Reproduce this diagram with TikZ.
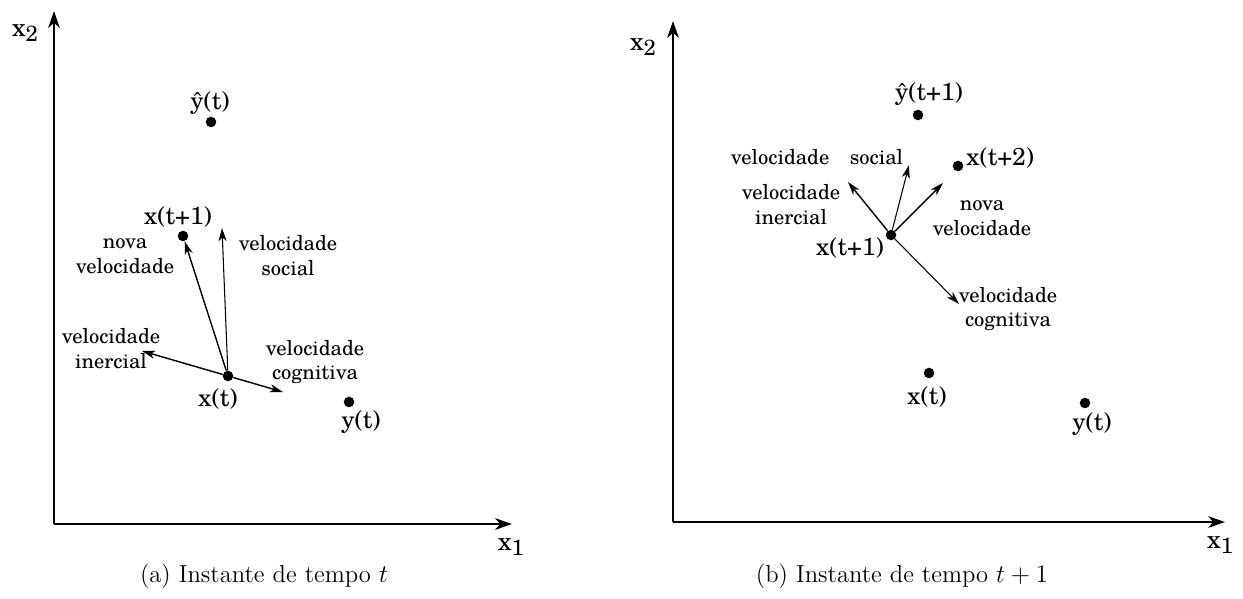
\documentclass[tikz,border=0pt]{standalone}
\usepackage{fontspec}
\usetikzlibrary{arrows.meta}
\newfontfamily\schola{TeX Gyre Schola}
\begin{document}
\begin{tikzpicture}[x=0.02cm,y=-0.02cm,
  axis/.style={line width=1.6pt,-{Stealth[length=9.5pt,width=6.5pt,inset=2.8pt]}},
  vel/.style={line width=0.8pt,-{Stealth[length=7.5pt,width=4.6pt,inset=2.2pt]}},
  velthin/.style={line width=0.6pt,-{Stealth[length=7.5pt,width=4.6pt,inset=2.2pt]}},
  dot/.style={circle,fill,inner sep=0pt,minimum size=6pt},
  axlbl/.style={font=\schola\fontsize{14.5}{16}\selectfont,inner sep=0pt},
  ptlbl/.style={font=\schola\fontsize{14}{16}\selectfont,inner sep=0pt},
  desc/.style={font=\schola\fontsize{11.7}{14.2}\selectfont,align=center,inner sep=0pt},
  captxt/.style={font=\fontsize{14}{16}\selectfont,inner sep=0pt}]
\useasboundingbox (0,0) rectangle (1243,598);

% ---------- panel (a) ----------
\coordinate (oa) at (54,524);
\coordinate (ya) at (54,11);
\coordinate (xa) at (512,524);
\draw[axis] (oa) -- (ya);
\draw[axis] (oa) -- (xa);
\node[axlbl] (x2a) at (25,33) {x\raisebox{-0.4ex}{\fontsize{12.5}{14}\selectfont 2}};
\node[axlbl] (x1a) at (511,547) {x\raisebox{-0.4ex}{\fontsize{12.5}{14}\selectfont 1}};

\node[dot] (yhata) at (211,122) {};
\node[ptlbl] (yhatalbl) at (210,103) {\^{y}(t)};
\node[dot] (xt1a) at (183,236) {};
\node[ptlbl] (xt1albl) at (178,217) {x(t+1)};
\node[dot] (xta) at (228,376) {};
\node[ptlbl] (xtalbl) at (218,399) {x(t)};
\node[dot] (yta) at (349,402) {};
\node[ptlbl] (ytalbl) at (361,422) {y(t)};

\coordinate (socA) at (222,228);
\coordinate (inA) at (142,351);
\coordinate (cogA) at (283,392);
\draw[vel] (xta) -- (xt1a);
\draw[velthin] (xta) -- (socA);
\draw[vel] (xta) -- (inA);
\draw[vel] (xta) -- (cogA);

\node[desc] (novaA) at (125,256) {nova\\velocidade};
\node[desc] (socAl) at (288,256) {velocidade\\social};
\node[desc] (inAl) at (111,349) {velocidade\\inercial};
\node[desc] (cogAl) at (315,362) {velocidade\\cognitiva};

\node[captxt] (capa) at (264,576) {(a) Instante de tempo $t$};

% ---------- panel (b) ----------
\coordinate (ob) at (673,522);
\coordinate (yb) at (673,21);
\coordinate (xb) at (1225,522);
\draw[axis] (ob) -- (yb);
\draw[axis] (ob) -- (xb);
\node[axlbl] (x2b) at (643,47) {x\raisebox{-0.4ex}{\fontsize{12.5}{14}\selectfont 2}};
\node[axlbl] (x1b) at (1220,545) {x\raisebox{-0.4ex}{\fontsize{12.5}{14}\selectfont 1}};

\node[dot] (yhatb) at (918,115) {};
\node[ptlbl] (yhatblbl) at (929,94) {\^{y}(t+1)};
\node[dot] (xt2b) at (958,166) {};
\node[ptlbl,anchor=west] (xt2blbl) at (966,158) {x(t+2)};
\node[dot] (xt1b) at (891,235) {};
\node[ptlbl] (xt1blbl) at (850,248) {x(t+1)};
\node[dot] (xtb) at (929,373) {};
\node[ptlbl] (xtblbl) at (927,397) {x(t)};
\node[dot] (ytb) at (1085,403) {};
\node[ptlbl] (ytblbl) at (1092,424) {y(t)};

\coordinate (inB) at (848,182);
\coordinate (socB) at (909,165);
\coordinate (novaB) at (943,183);
\coordinate (cogB) at (959,304);
\draw[vel] (xt1b) -- (inB);
\draw[velthin] (xt1b) -- (socB);
\draw[vel] (xt1b) -- (novaB);
\draw[velthin] (xt1b) -- (cogB);

\node[desc] (socBl) at (817,157) {velocidade\quad social};
\node[desc] (inBl) at (791,205) {velocidade\\inercial};
\node[desc] (novaBl) at (982,218) {nova\\velocidade};
\node[desc] (cogBl) at (1008,309) {velocidade\\cognitiva};

\node[captxt] (capb) at (902,576) {(b) Instante de tempo $t+1$};
\end{tikzpicture}
\end{document}
